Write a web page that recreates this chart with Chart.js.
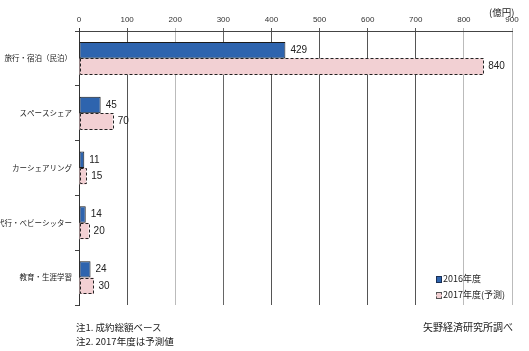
<!DOCTYPE html>
<html>
<head>
<meta charset="utf-8">
<script src="https://cdn.jsdelivr.net/npm/chart.js@4/dist/chart.umd.min.js"></script>
<style>
  body { margin: 0; background: #fff; }
  #wrap { position: relative; width: 529px; height: 351px; font-family: "Noto Sans CJK JP", sans-serif; color: #222; }
  canvas { position: absolute; left: 0; top: 0; }
  .txt { position: absolute; font-size: 10px; white-space: nowrap; line-height: 12px; }
  .sw { display: inline-block; width: 6px; height: 7px; margin-right: 1px; vertical-align: -1px; box-sizing: border-box; }
</style>
</head>
<body>
<div id="wrap">
  <canvas id="chart" width="529" height="351"></canvas>
  <div class="txt" style="left:489px; top:6px; font-size:9.5px;">(億円)</div>
  <div class="txt" style="left:436px; top:273px; font-size:9px;"><span class="sw" style="background:#2e64ae;border:1px solid #1a2f55;"></span>2016年度</div>
  <div class="txt" style="left:436px; top:289px; font-size:9px;"><span class="sw" style="background:#f2d0d3;border:1px dashed #555;"></span>2017年度(予測)</div>
  <div class="txt" style="left:76px; top:321px; font-size:9.5px;">注1. 成約総額ベース</div>
  <div class="txt" style="left:76px; top:335px; font-size:9.5px;">注2. 2017年度は予測値</div>
  <div class="txt" style="left:423px; top:321px;">矢野経済研究所調べ</div>
</div>
<script>
const categories = ['旅行・宿泊（民泊）', 'スペースシェア', 'カーシェアリング', '家事代行・ベビーシッター', '教育・生涯学習'];
const values2016 = [429, 45, 11, 14, 24];
const values2017 = [840, 70, 15, 20, 30];
const xTicks = [0, 100, 200, 300, 400, 500, 600, 700, 800, 900];
const gridColors = ['#333', '#555', '#bbb', '#666', '#555', '#555', '#555', '#555', '#bbb', '#bbb'];

// value labels next to each bar end
const barLabels = {
    id: 'barLabels',
    afterDatasetsDraw(chart) {
        const ctx = chart.ctx;
        ctx.save();
        ctx.font = '10px "Liberation Sans Narrow", "Liberation Sans", sans-serif';
        ctx.fillStyle = '#222';
        ctx.textBaseline = 'middle';
        chart.data.datasets.forEach((ds, i) => {
            chart.getDatasetMeta(i).data.forEach((bar, j) => {
                ctx.fillText(ds.data[j], bar.x + 5, bar.y);
            });
        });
        ctx.restore();
    }
};

const ctx = document.getElementById('chart').getContext('2d');
const chart = new Chart(ctx, {
    type: 'bar',
    data: {
        labels: categories,
        datasets: [{
            label: '2016年度',
            data: values2016,
            backgroundColor: '#2e64ae',
            borderColor: '#1a1a1a',
            borderWidth: 1,
            borderSkipped: false
        }, {
            label: '2017年度(予測)',
            data: values2017,
            backgroundColor: '#f2d0d3',
            borderColor: '#1a1a1a',
            borderWidth: 0,
            borderSkipped: false
        }]
    },
    options: {
        indexAxis: 'y',
        responsive: false,
        animation: false,
        layout: { padding: { top: 0, left: 0, right: 17, bottom: 46 } },
        categoryPercentage: 0.6,
        barPercentage: 1.0,
        plugins: { legend: { display: false }, tooltip: { enabled: false } },
        scales: {
            x: {
                position: 'top',
                min: 0,
                max: 900,
                afterBuildTicks(scale) { scale.ticks = xTicks.map(v => ({ value: v })); },
                afterFit(scale) { scale.height = 31; },
                ticks: { font: { size: 8, family: '"Liberation Sans", sans-serif' }, color: '#333', padding: 3 },
                grid: {
                    color: ctx => gridColors[ctx.index] || '#888',
                    lineWidth: 1,
                    tickLength: 3
                },
                border: { display: true, color: '#444' }
            },
            y: {
                afterFit(scale) { scale.width = 79; },
                ticks: { font: { size: 7.5, family: '"Noto Sans CJK JP", sans-serif' }, color: '#222', padding: 3 },
                grid: { drawOnChartArea: false, tickLength: 4, color: '#444' },
                border: { display: true, color: '#333' }
            }
        }
    },
    plugins: [barLabels, {
        // dashed outline for the forecast bars
        id: 'dashedBars',
        afterDatasetsDraw(chart) {
            const c = chart.ctx;
            c.save();
            c.setLineDash([3, 2]);
            c.strokeStyle = '#222';
            c.lineWidth = 1;
            chart.getDatasetMeta(1).data.forEach(bar => {
                const x0 = Math.round(bar.base) + 0.5, x1 = Math.round(bar.x) + 0.5;
                const y0 = Math.round(bar.y - bar.height / 2) + 0.5, y1 = Math.round(bar.y + bar.height / 2) - 0.5;
                c.strokeRect(x0, y0, x1 - x0, y1 - y0);
            });
            c.restore();
        }
    }]
});
</script>
</body>
</html>
